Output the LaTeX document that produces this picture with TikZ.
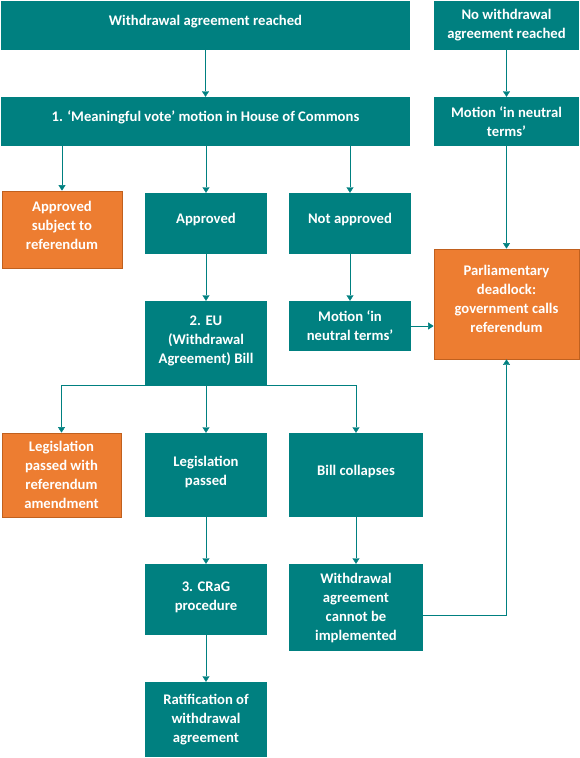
\documentclass[tikz,border=0pt]{standalone}
\usepackage{fontspec}
\setmainfont{Carlito}
\usepackage{tikz}
\usetikzlibrary{arrows.meta, positioning}
\definecolor{teal}{HTML}{008080}
\definecolor{orng}{HTML}{ED7D31}
\definecolor{orngdark}{HTML}{C0601E}
\tikzset{line width=2pt, >={Triangle[width=7pt, length=5.5pt]}, every node/.style={font=\bfseries\fontsize{14.67}{19}\selectfont, text=white, align=center, inner sep=0pt}, tealbox/.style={fill=teal}, orngbox/.style={fill=orng, draw=orngdark, line width=0.8pt}, flow/.style={draw=teal, ->}}

\begin{document}
\begin{tikzpicture}[x=1pt, y=-1pt]
	\useasboundingbox (0,0) rectangle (580,758);
	\node[tealbox, minimum width=409pt, minimum height=49pt] at (205.5,25.5) (Reached) {Withdrawal agreement reached\\[-9pt]};
	\node[tealbox, minimum width=145pt, minimum height=49pt] at (506.5,25.5) (No Reached) {No withdrawal\\ agreement reached};
	\node[tealbox, minimum width=409pt, minimum height=49pt] at (205.5,121.5) (Vote) {1. ‘Meaningful vote’ motion in House of Commons\\[-9pt]};
	\node[tealbox, minimum width=145pt, minimum height=49pt] at (506.5,121.5) (Neutral R) {Motion ‘in neutral\\ terms’};
	\node[orngbox, minimum width=120pt, minimum height=77pt] at (62,229.5) (Approved Ref) {Approved\\ subject to\\ referendum\\[-11pt]};
	\node[tealbox, minimum width=122pt, minimum height=61pt] at (206,223.5) (Approved) {Approved\\[-9pt]};
	\node[tealbox, minimum width=122pt, minimum height=61pt] at (350,223.5) (Not Approved) {Not approved\\[-9pt]};
	\node[tealbox, minimum width=122pt, minimum height=84pt] at (206,343) (Bill) {2. EU\\ (Withdrawal\\ Agreement) Bill\\[-12pt]};
	\node[tealbox, minimum width=122pt, minimum height=50pt] at (350,326) (Neutral M) {Motion ‘in\\ neutral terms’};
	\node[orngbox, minimum width=145pt, minimum height=110pt] at (506.5,304) (Deadlock) {Parliamentary\\ deadlock:\\ government calls\\ referendum\\[-8pt]};
	\node[orngbox, minimum width=119pt, minimum height=84pt] at (61.5,475) (Leg Ref) {Legislation\\ passed with\\ referendum\\ amendment};
	\node[tealbox, minimum width=122pt, minimum height=84pt] at (206,475) (Leg Passed) {Legislation\\ passed\\[-11pt]};
	\node[tealbox, minimum width=134pt, minimum height=84pt] at (356,475) (Collapse) {Bill collapses\\[-10pt]};
	\node[tealbox, minimum width=122pt, minimum height=71pt] at (206,599.5) (CRaG) {3. CRaG\\ procedure\\[-12pt]};
	\node[tealbox, minimum width=134pt, minimum height=87pt] at (356,607.5) (Cannot) {Withdrawal\\ agreement\\ cannot be\\ implemented};
	\node[tealbox, minimum width=122pt, minimum height=75pt] at (206,719.5) (Ratify) {Ratification of\\ withdrawal\\ agreement};
	\draw[flow] (Reached) -- (Vote);
	\draw[flow] (No Reached) -- (Neutral R);
	\draw[flow] (Neutral R) -- (Deadlock);
	\draw[flow] (Approved Ref.north |- Vote.south) -- (Approved Ref);
	\draw[flow] (Approved.north |- Vote.south) -- (Approved);
	\draw[flow] (Not Approved.north |- Vote.south) -- (Not Approved);
	\draw[flow] (Approved) -- (Bill);
	\draw[flow] (Not Approved) -- (Neutral M);
	\draw[flow] (Neutral M.east) -- (Neutral M.east -| Deadlock.west);
	\draw[flow] (Bill.south) -| (Leg Ref);
	\draw[flow] (Bill) -- (Leg Passed);
	\draw[flow] (Bill.south) -| (Collapse);
	\draw[flow] (Leg Passed) -- (CRaG);
	\draw[flow] (Collapse) -- (Cannot);
	\draw[flow] (CRaG) -- (Ratify);
	\draw[flow] ([yshift=-7.5pt]Cannot.east) -| (Deadlock);
\end{tikzpicture}
\end{document}
